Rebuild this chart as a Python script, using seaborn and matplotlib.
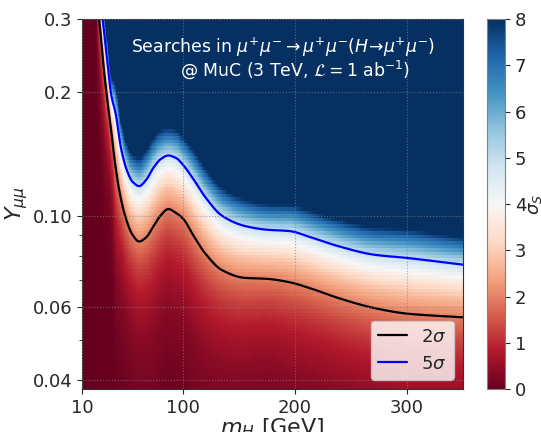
import numpy as np
import matplotlib
matplotlib.use('Agg')
import matplotlib.pyplot as plt
import seaborn as sns
from matplotlib.lines import Line2D
from matplotlib.ticker import FixedLocator, NullFormatter

# Contour positions (m_H in GeV, Y_mumu)
mass = [10, 20, 24, 27, 30, 33, 36, 40, 45, 50, 55, 61, 67, 74, 80, 87, 94,
        100, 110, 120, 135, 155, 175, 195, 215, 240, 270, 300, 350]
y_2sigma = [3.0, 3.0, 0.34, 0.269, 0.220, 0.187, 0.161, 0.131, 0.109, 0.0969,
            0.0900, 0.0866, 0.0885, 0.0945, 0.100, 0.1038, 0.1015, 0.0985,
            0.0890, 0.0810, 0.0738, 0.0707, 0.0703, 0.0690, 0.0665, 0.0630,
            0.0598, 0.0579, 0.0567]
y_5sigma = [3.6, 3.6, 0.40, 0.325, 0.274, 0.231, 0.197, 0.177, 0.145, 0.129,
            0.121, 0.118, 0.122, 0.131, 0.137, 0.140, 0.138, 0.133,
            0.122, 0.111, 0.100, 0.0945, 0.0925, 0.0918, 0.0885, 0.0842,
            0.0805, 0.0790, 0.0761]

ytick_vals = [0.04, 0.06, 0.10, 0.2, 0.3]
ytick_labels = ['0.04', '0.06', '0.10', '0.2', '0.3']
xtick_vals = [10, 100, 200, 300]
cbar_ticks = list(range(9))

sns.set_style("ticks")
plt.rcParams['font.family'] = ['DejaVu Sans']
plt.rcParams['mathtext.fontset'] = 'dejavusans'


def pchip(x, y, xn):
    # monotone cubic hermite through the read-off points
    x = np.asarray(x, float)
    y = np.asarray(y, float)
    h = np.diff(x)
    d = np.diff(y) / h
    m = np.zeros_like(y)
    for i in range(1, len(y) - 1):
        if d[i - 1] * d[i] > 0:
            w1 = 2 * h[i] + h[i - 1]
            w2 = h[i] + 2 * h[i - 1]
            m[i] = (w1 + w2) / (w1 / d[i - 1] + w2 / d[i])
    m[0] = d[0]
    m[-1] = d[-1]
    idx = np.clip(np.searchsorted(x, xn) - 1, 0, len(h) - 1)
    t = (xn - x[idx]) / h[idx]
    hh = h[idx]
    return ((2 * t**3 - 3 * t**2 + 1) * y[idx] + (t**3 - 2 * t**2 + t) * hh * m[idx]
            + (-2 * t**3 + 3 * t**2) * y[idx + 1] + (t**3 - t**2) * hh * m[idx + 1])


# significance map: log-linear in log(Y) between the 2 and 5 sigma lines
mh = np.linspace(10, 350, 681)
lg2 = pchip(mass, np.log(y_2sigma), mh)
lg5 = pchip(mass, np.log(y_5sigma), mh)
slope = np.log(2.5) / (lg5 - lg2)


def sig_map(yv):
    return np.exp(np.log(2) + (np.log(yv)[:, None] - lg2[None, :]) * slope[None, :])


y_cells = np.geomspace(0.038, 0.3, 110)
y_fine = np.geomspace(0.038, 0.3, 600)

cmap = sns.color_palette("RdBu", as_cmap=True)

fig = plt.figure(figsize=(5.41, 4.32), dpi=100)
ax = fig.add_axes([0.1516, 0.0995, 0.7042, 0.8565])
cax = fig.add_axes([0.8996, 0.0995, 0.0338, 0.8565])

mesh = ax.pcolormesh(mh, y_cells, sig_map(y_cells), cmap=cmap, vmin=0, vmax=8,
                     shading='nearest', rasterized=True)
ax.contour(mh, y_fine, sig_map(y_fine), levels=[2], colors='black', linewidths=1.6)
ax.contour(mh, y_fine, sig_map(y_fine), levels=[5], colors='blue', linewidths=1.6)

ax.set_yscale('log')
ax.set_xlim(10, 350)
ax.set_ylim(0.038, 0.3)
ax.set_yticks(ytick_vals)
ax.set_yticklabels(ytick_labels)
ax.yaxis.set_minor_locator(FixedLocator([0.05, 0.07, 0.08, 0.09]))
ax.yaxis.set_minor_formatter(NullFormatter())
ax.set_xticks(xtick_vals)
ax.tick_params(labelsize=13)
ax.grid(True, which='major', linestyle=':', color='gray', linewidth=0.8, alpha=0.7)
ax.set_axisbelow(False)
for s in ax.spines.values():
    s.set_color('#333333')

ax.set_xlabel(r'$m_H$ [GeV]', fontsize=16, labelpad=0)
ax.set_ylabel(r'$Y_{\mu\mu}$', fontsize=16, labelpad=2)

ax.text(0.528, 0.924, r'Searches in $\mu^{+}\mu^{-}\rightarrow\mu^{+}\mu^{-}(H\!\rightarrow\!\mu^{+}\mu^{-})$',
        transform=ax.transAxes, ha='center', va='center', color='white', fontsize=12.4)
ax.text(0.56, 0.862, r'@ MuC (3 TeV, $\mathcal{L}=1$ ab$^{-1}$)',
        transform=ax.transAxes, ha='center', va='center', color='white', fontsize=12.4)

handles = [Line2D([], [], color='black', lw=1.6, label=r'2$\sigma$'),
           Line2D([], [], color='blue', lw=1.6, label=r'5$\sigma$')]
ax.legend(handles=handles, loc='lower right', fontsize=13, framealpha=0.8,
          handlelength=1.6, handletextpad=0.8, borderpad=0.4)

cb = fig.colorbar(mesh, cax=cax, ticks=cbar_ticks)
cb.ax.tick_params(labelsize=13)
cb.outline.set_edgecolor('gray')
cb.ax.set_ylabel(r'$\sigma_S$', fontsize=13)
cb.ax.yaxis.set_label_coords(2.15, 0.5)

fig.savefig('out.png', dpi=100)
